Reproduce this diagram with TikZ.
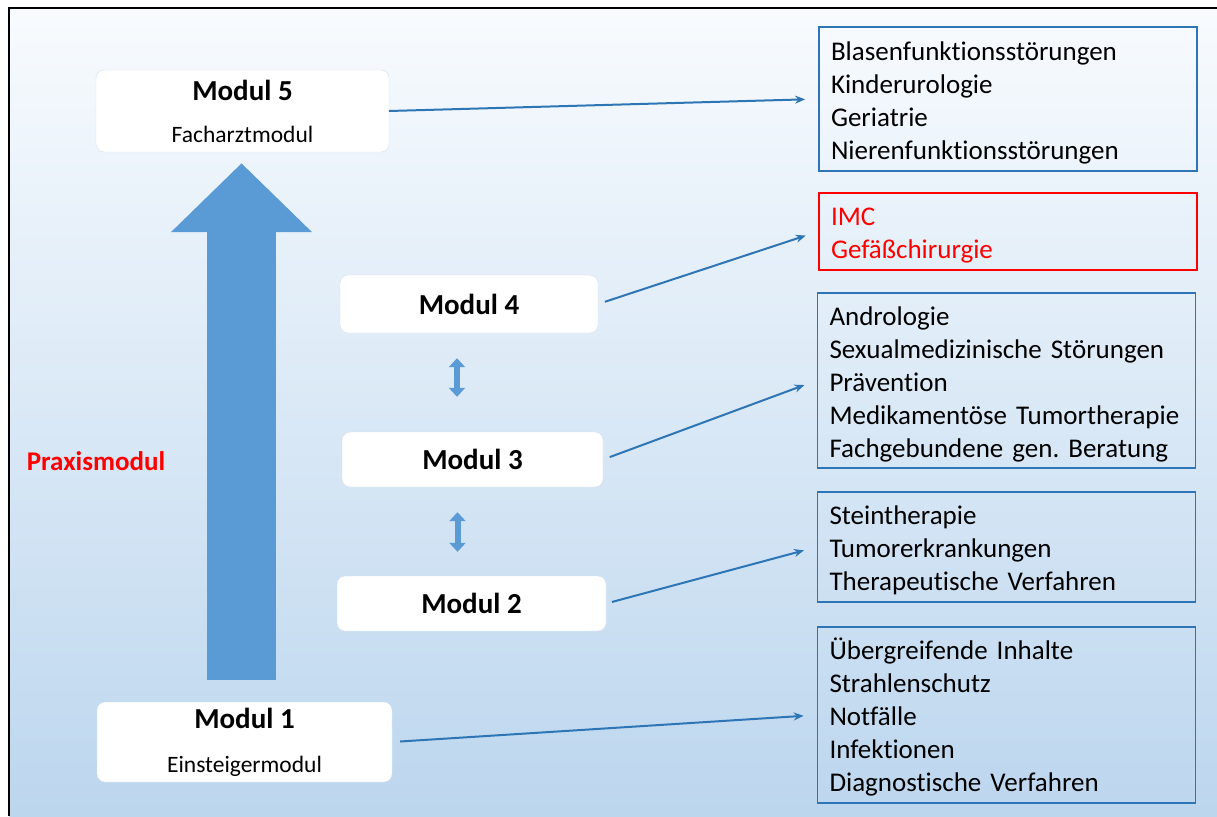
\documentclass[tikz,border=0pt]{standalone}
\usepackage{fontspec}
\setmainfont{Carlito}[Ligatures=NoCommon]
\usetikzlibrary{arrows.meta}

\definecolor{boxblue}{HTML}{2E75B6}
\definecolor{arrowblue}{HTML}{5B9BD5}
\definecolor{bgtop}{HTML}{F8FBFE}
\definecolor{bgbottom}{HTML}{BCD6EE}
\definecolor{modline}{HTML}{D3DFEC}
\definecolor{hotred}{HTML}{FF0000}

\tikzset{
  modul/.style={draw=modline, fill=white, rounded corners=8pt, align=center, inner sep=0pt},
  liste/.style={draw=boxblue, line width=1.8pt, align=left, text width=354pt,
    inner xsep=12pt, inner ysep=0pt, font=\fontsize{27}{33}\selectfont,
    execute at begin node=\rule{0pt}{26pt}},
  verbinder/.style={boxblue, line width=2pt, -{Stealth[length=10pt,width=8pt]}, shorten >=13pt},
}

\begin{document}
\frenchspacing
\begin{tikzpicture}[x=1pt, y=-1pt]
    % background and frame
    \useasboundingbox (0,0) rectangle (1217,816);
    \shade[top color=bgtop, bottom color=bgbottom] (9,8) rectangle (1217,816);
    \draw[line width=2pt] (9,816) -- (9,8) -- (1217,8);
    % modules
    \node[modul, minimum width=293pt, minimum height=82pt, font=\fontsize{23.5}{42}\selectfont] (m5) at (242.5,111)
        {{\fontsize{29}{42}\selectfont\bfseries Modul 5}\\Facharztmodul};
    \node[modul, minimum width=258pt, minimum height=58pt, font=\fontsize{29}{36}\selectfont\bfseries] (m4) at (469,304) {Modul 4};
    \node[modul, minimum width=261pt, minimum height=55pt, font=\fontsize{29}{36}\selectfont\bfseries] (m3) at (472.5,459.5) {Modul 3};
    \node[modul, minimum width=269pt, minimum height=55pt, font=\fontsize{29}{36}\selectfont\bfseries] (m2) at (471.5,603.5) {Modul 2};
    \node[modul, minimum width=295pt, minimum height=80pt, font=\fontsize{23.5}{44}\selectfont] (m1) at (244.5,742)
        {{\fontsize{29}{44}\selectfont\bfseries Modul 1}\\Einsteigermodul};
    \node[text=hotred, font=\fontsize{27}{32}\selectfont\bfseries] (praxis) at (96,461) {Praxismodul};
    % content boxes
    \node[liste, minimum height=144pt] (la) at (1008,99)
        {Blasenfunktionsstörungen\\Kinderurologie\\Geriatrie\\Nierenfunktionsstörungen};
    \node[liste, draw=hotred, text=hotred, minimum height=77pt] (lb) at (1008,231.5)
        {IMC\\Gefäßchirurgie};
    \node[liste, minimum height=175pt] (lc) at (1006.5,380.5)
        {Andrologie\\Sexualmedizinische Störungen\\Prävention\\Medikamentöse Tumortherapie\\Fachgebundene gen. Beratung};
    \node[liste, minimum height=110pt] (ld) at (1006.5,547)
        {Steintherapie\\Tumorerkrankungen\\Therapeutische Verfahren};
    \node[liste, minimum height=176pt] (le) at (1006.5,715)
        {Übergreifende Inhalte\\Strahlenschutz\\Notfälle\\Infektionen\\Diagnostische Verfahren};
    % big arrow
    \draw[arrowblue, line width=69pt, -{Triangle[length=69pt,width=137pt]}, shorten <=22pt, shorten >=11pt]
        ([xshift=-3pt]m1.north) -- ([xshift=-1pt]m5.south);
    % double arrows
    \draw[arrowblue, line width=6pt, {Triangle[length=9pt,width=16pt]}-{Triangle[length=9pt,width=16pt]}, shorten <=25pt, shorten >=35pt]
        ([xshift=-12pt]m4.south) -- ([xshift=-12pt]m4.south |- m3.north);
    \draw[arrowblue, line width=6pt, {Triangle[length=9pt,width=16pt]}-{Triangle[length=9pt,width=16pt]}, shorten <=25pt, shorten >=24pt]
        ([xshift=-15pt]m3.south) -- ([xshift=-15pt]m3.south |- m2.north);
    % connectors
    \foreach \a/\b/\s in {m5/la/0, m4/lb/7, m3/lc/7, m2/ld/6, m1/le/8}
        \draw[verbinder, shorten <=\s pt] (\a.east) -- (\b.west);
\end{tikzpicture}
\end{document}
